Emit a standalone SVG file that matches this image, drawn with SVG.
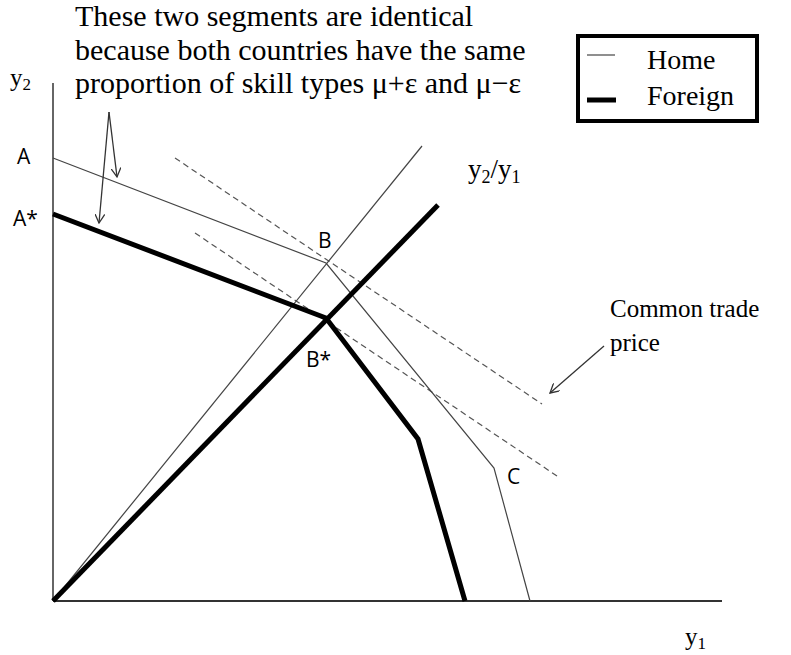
<svg xmlns="http://www.w3.org/2000/svg" width="791" height="655" viewBox="0 0 791 655">
<style>
.serif{font-family:"Liberation Serif","DejaVu Serif",serif;fill:#000}
.sans{font-family:"Open Sans","Liberation Sans",sans-serif;fill:#000;font-size:21px}
.thin{fill:none;stroke:#444;stroke-width:1.2}
.thick{fill:none;stroke:#000;stroke-width:5;stroke-linejoin:miter}
.dash{fill:none;stroke:#555;stroke-width:1.2;stroke-dasharray:6 4}
.axis{fill:none;stroke:#333;stroke-width:2}
.arr{fill:none;stroke:#333;stroke-width:1.3}
</style>
<defs>
<marker id="ah" viewBox="0 0 10 10" refX="9" refY="5" markerWidth="10" markerHeight="10" markerUnits="userSpaceOnUse" orient="auto">
<path d="M0,0 L9,5 L0,10" fill="none" stroke="#333" stroke-width="1.3"/>
</marker>
</defs>
<rect width="791" height="655" fill="#fff"/>
<g id="axes">
<line class="axis" x1="53" y1="83" x2="53" y2="601" style="stroke-width:1.5"/>
<line class="axis" x1="53" y1="601" x2="722" y2="601"/>
<text class="serif" x="10" y="86" font-size="25">y<tspan font-size="17" dy="4">2</tspan></text>
<text class="serif" x="685" y="645" font-size="25">y<tspan font-size="17" dy="4">1</tspan></text>
</g>
<g id="connectors">
<line class="dash" x1="175" y1="158" x2="542" y2="404"/>
<line class="dash" x1="195" y1="233" x2="560" y2="478"/>
<line class="thin" x1="53" y1="601" x2="422" y2="146"/>
<polyline class="thin" points="53,158 326,263 494,468 530,601"/>
<line class="thick" x1="53" y1="601" x2="438" y2="205"/>
<polyline class="thick" points="53,214 326,318 418,439 465,601"/>
<line class="arr" x1="109" y1="112" x2="117" y2="177" marker-end="url(#ah)"/>
<line class="arr" x1="109" y1="112" x2="99" y2="223" marker-end="url(#ah)"/>
<line class="arr" x1="604" y1="346" x2="550" y2="393" marker-end="url(#ah)"/>
</g>
<g id="labels">
<text class="sans" x="17" y="164">A</text>
<text class="sans" x="13" y="226">A*</text>
<text class="sans" x="318" y="248">B</text>
<text class="sans" x="306" y="367">B*</text>
<text class="sans" x="507" y="484">C</text>
<text class="serif" x="468" y="178" font-size="27">y<tspan font-size="18" dy="5">2</tspan><tspan dy="-5">/y</tspan><tspan font-size="18" dy="5">1</tspan></text>
<text class="serif" x="610" y="317" font-size="25">Common trade</text>
<text class="serif" x="610" y="351" font-size="25">price</text>
</g>
<g id="note">
<text class="serif" x="75" y="26" font-size="30">These two segments are identical</text>
<text class="serif" x="75" y="60" font-size="30">because both countries have the same</text>
<text class="serif" x="75" y="93" font-size="30">proportion of skill types μ+ε and μ−ε</text>
</g>
<g id="legend">
<rect x="578" y="36" width="179" height="85" fill="#fff" stroke="#000" stroke-width="4"/>
<line x1="587" y1="55" x2="615" y2="55" stroke="#444" stroke-width="1.2"/>
<line x1="587" y1="100" x2="616" y2="100" stroke="#000" stroke-width="5"/>
<text class="serif" x="647" y="69" font-size="28">Home</text>
<text class="serif" x="647" y="105" font-size="28">Foreign</text>
</g>
</svg>
